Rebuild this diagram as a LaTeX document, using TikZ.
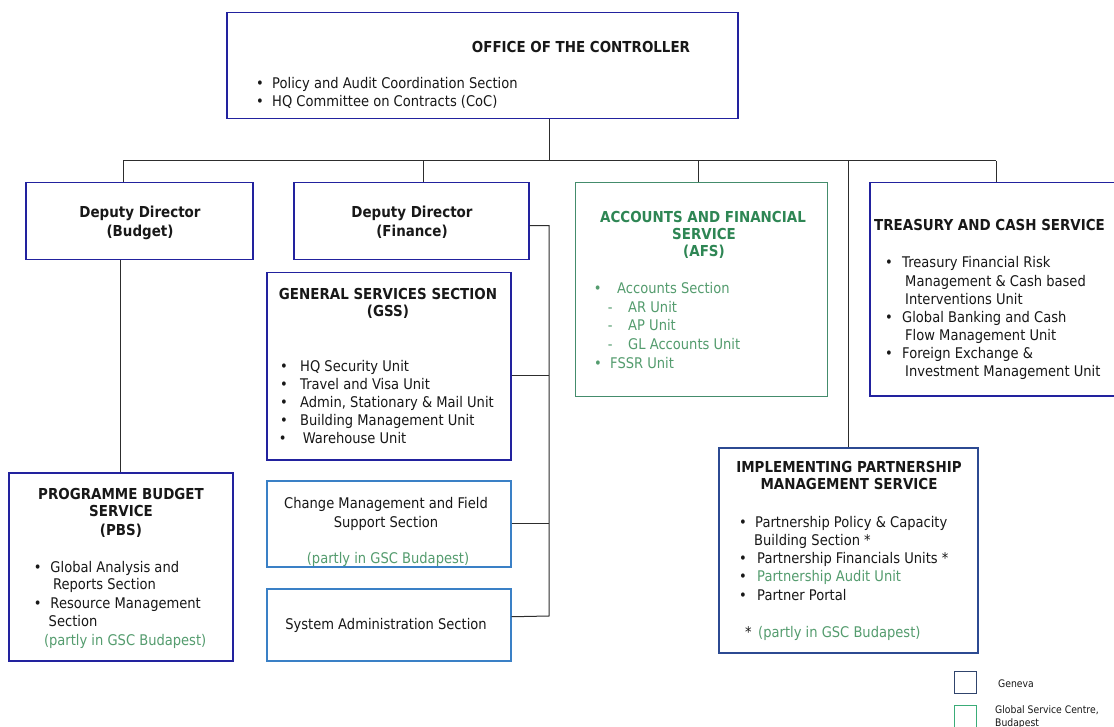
\documentclass[tikz,border=0pt]{standalone}
\usepackage{fontspec}
\setmainfont{DejaVu Sans}[FakeStretch=0.89]
\definecolor{ink}{RGB}{24,24,24}
\definecolor{geneva}{RGB}{34,34,158}
\definecolor{support}{RGB}{58,128,198}
\definecolor{ipmsblue}{RGB}{44,74,146}
\definecolor{legblue}{RGB}{48,68,108}
\definecolor{gscline}{RGB}{68,140,108}
\definecolor{leggreen}{RGB}{58,172,120}
\definecolor{gschead}{RGB}{46,134,84}
\definecolor{gsc}{RGB}{84,156,110}
\definecolor{wire}{RGB}{45,45,45}
\newcommand\bodyfont{\fontsize{14.7pt}{18pt}\selectfont}
\newcommand\headfont{\fontsize{15.1pt}{18pt}\selectfont\bfseries}
\newcommand\legfont{\fontsize{10.4pt}{12pt}\selectfont}
\newcommand\bul[1]{\makebox[#1][l]{\textbullet}}
\newcommand\dsh[1]{\makebox[#1][l]{-}}
\tikzset{
  unit/.style={draw=geneva, line width=1.5pt, anchor=north west, inner sep=0pt},
  txt/.style={inner sep=0pt, anchor=mid west, yshift=-3.5pt, font=\bodyfont, text=ink},
  ctr/.style={inner sep=0pt, anchor=mid, yshift=-3.5pt, font=\bodyfont, text=ink},
  head/.style={inner sep=0pt, anchor=mid, yshift=-3.5pt, font=\headfont, text=ink},
  link/.style={draw=wire, line width=1pt}
}
\begin{document}
\begin{tikzpicture}[x=1pt,y=-1pt]
  \useasboundingbox (0,0) rectangle (1114,727);
  \fill[white] (0,0) rectangle (1114,727);
  \clip (0,0) rectangle (1114,727);

  % boxes
  \node[unit, minimum width=511pt, minimum height=106pt] (ctrl) at (226,12) {};
  \node[unit, minimum width=227pt, minimum height=77pt] (ddb) at (25,182) {};
  \node[unit, minimum width=235pt, minimum height=77pt] (ddf) at (293,182) {};
  \node[unit, minimum width=244pt, minimum height=187pt] (gss) at (266,272) {};
  \node[unit, draw=support, minimum width=244pt, minimum height=86pt] (cms) at (266,480) {};
  \node[unit, draw=support, minimum width=244pt, minimum height=72pt] (sys) at (266,588) {};
  \node[unit, minimum width=224pt, minimum height=188pt] (pbs) at (8,472) {};
  \node[unit, draw=gscline, line width=1.3pt, minimum width=252pt, minimum height=214pt] (afs) at (575,182) {};
  \node[unit, minimum width=255pt, minimum height=213pt] (tcs) at (869,182) {};
  \node[unit, draw=ipmsblue, minimum width=259pt, minimum height=205pt] (ipm) at (718,447) {};

  % office of the controller
  \node[head] (ctrl-t) at (581,46) {OFFICE OF THE CONTROLLER};
  \node[txt] (ctrl-1) at (256,82) {\bul{16pt}Policy and Audit Coordination Section};
  \node[txt] (ctrl-2) at (256,100) {\bul{16pt}HQ Committee on Contracts (CoC)};

  % deputy directors
  \node[head] (ddb-1) at (140,211) {Deputy Director};
  \node[head] (ddb-2) at (140,230) {(Budget)};
  \node[head] (ddf-1) at (412,211) {Deputy Director};
  \node[head] (ddf-2) at (412,230) {(Finance)};

  % general services
  \node[head] (gss-1) at (388,293) {GENERAL SERVICES SECTION};
  \node[head] (gss-2) at (388,310) {(GSS)};
  \node[txt] (gss-3) at (280,365) {\bul{20pt}HQ Security Unit};
  \node[txt] (gss-4) at (280,383) {\bul{20pt}Travel and Visa Unit};
  \node[txt] (gss-5) at (280,401) {\bul{20pt}Admin, Stationary \& Mail Unit};
  \node[txt] (gss-6) at (280,419) {\bul{20pt}Building Management Unit};
  \node[txt] (gss-7) at (278.6,437) {\bul{24pt}Warehouse Unit};

  % change management and system administration
  \node[ctr] (cms-1) at (386,502) {Change Management and Field};
  \node[ctr] (cms-2) at (386,521) {Support Section};
  \node[ctr, text=gsc] (cms-3) at (388,557) {(partly in GSC Budapest)};
  \node[ctr] (sys-1) at (386,623) {System Administration Section};

  % programme budget
  \node[head] (pbs-1) at (121,493) {PROGRAMME BUDGET};
  \node[head] (pbs-2) at (121,510) {SERVICE};
  \node[head] (pbs-3) at (121,529) {(PBS)};
  \node[txt] (pbs-4) at (33.8,566) {\bul{16.5pt}Global Analysis and};
  \node[txt] (pbs-5) at (52.8,583) {Reports Section};
  \node[txt] (pbs-6) at (33.8,602) {\bul{16.5pt}Resource Management};
  \node[txt] (pbs-7) at (48.5,620) {Section};
  \node[txt, text=gsc] (pbs-8) at (43.8,639) {(partly in GSC Budapest)};

  % accounts and financial service
  \node[head, text=gschead] (afs-1) at (703,216) {ACCOUNTS AND FINANCIAL};
  \node[head, text=gschead] (afs-2) at (704,233) {SERVICE};
  \node[head, text=gschead] (afs-3) at (704,250) {(AFS)};
  \node[txt, text=gsc] (afs-4) at (593.6,287) {\bul{23.4pt}Accounts Section};
  \node[txt, text=gsc] (afs-5) at (607.6,306) {\dsh{20.4pt}AR Unit};
  \node[txt, text=gsc] (afs-6) at (607.6,324) {\dsh{20.4pt}AP Unit};
  \node[txt, text=gsc] (afs-7) at (607.6,343) {\dsh{20.4pt}GL Accounts Unit};
  \node[txt, text=gsc] (afs-8) at (594,362) {\bul{16pt}FSSR Unit};

  % treasury and cash
  \node[head, anchor=mid west] (tcs-1) at (874,224) {TREASURY AND CASH SERVICE};
  \node[txt] (tcs-2) at (885,261) {\bul{17pt}Treasury Financial Risk};
  \node[txt] (tcs-3) at (905,280) {Management \& Cash based};
  \node[txt] (tcs-4) at (905,298) {Interventions Unit};
  \node[txt] (tcs-5) at (885,316) {\bul{17pt}Global Banking and Cash};
  \node[txt] (tcs-6) at (905,334) {Flow Management Unit};
  \node[txt] (tcs-7) at (885,352) {\bul{17pt}Foreign Exchange \&};
  \node[txt] (tcs-8) at (905,370) {Investment Management Unit};

  % implementing partnership management
  \node[head] (ipm-1) at (849,466) {IMPLEMENTING PARTNERSHIP};
  \node[head] (ipm-2) at (849,483) {MANAGEMENT SERVICE};
  \node[txt] (ipm-3) at (739,521) {\bul{16pt}Partnership Policy \& Capacity};
  \node[txt] (ipm-4) at (754,539) {Building Section *};
  \node[txt] (ipm-5) at (739,557) {\bul{18pt}Partnership Financials Units *};
  \node[txt] (ipm-6) at (739,575) {\bul{18pt}\color{gsc}Partnership Audit Unit};
  \node[txt] (ipm-7) at (739,594) {\bul{18pt}Partner Portal};
  \node[txt] (ipm-8) at (745,631) {\makebox[13pt][l]{*}\color{gsc}(partly in GSC Budapest)};

  % legend
  \node[unit, draw=legblue, line width=1.2pt, minimum width=22pt, minimum height=22pt] (leg-g) at (954,671) {};
  \node[unit, draw=leggreen, line width=1.2pt, minimum width=22pt, minimum height=22pt] (leg-b) at (954,705) {};
  \node[txt, font=\legfont, yshift=1pt] (leg-1) at (998,682) {Geneva};
  \node[txt, font=\legfont, yshift=1pt] (leg-2) at (995,708) {Global Service Centre,};
  \node[txt, font=\legfont, yshift=1pt] (leg-3) at (995,721) {Budapest};

  % connectors
  \coordinate (hub) at (549,161);
  \coordinate (jb) at (123,161);
  \coordinate (jf) at (423,161);
  \coordinate (ja) at (698,161);
  \coordinate (jt) at (996,161);
  \coordinate (spine) at (549,616);
  \draw[link] (hub |- ctrl.south) -- (hub);
  \draw[link] (jb) -- (jt);
  \draw[link] (jb) -- (jb |- ddb.north);
  \draw[link] (jf) -- (jf |- ddf.north);
  \draw[link] (ja) -- (ja |- afs.north);
  \draw[link] (ipm.north |- hub) -- (ipm.north);
  \draw[link] (jt) -- (jt |- tcs.north);
  \draw[link] (pbs.north |- ddb.south) -- (pbs.north);
  \draw[link] ([yshift=-4.5pt]ddf.east) -| (spine) -- ([yshift=8pt]sys.east);
  \draw[link] ([yshift=-9.5pt]gss.east) -- ([yshift=-9.5pt]gss.east -| spine);
  \draw[link] (cms.east) -- (cms.east -| spine);
\end{tikzpicture}
\end{document}
